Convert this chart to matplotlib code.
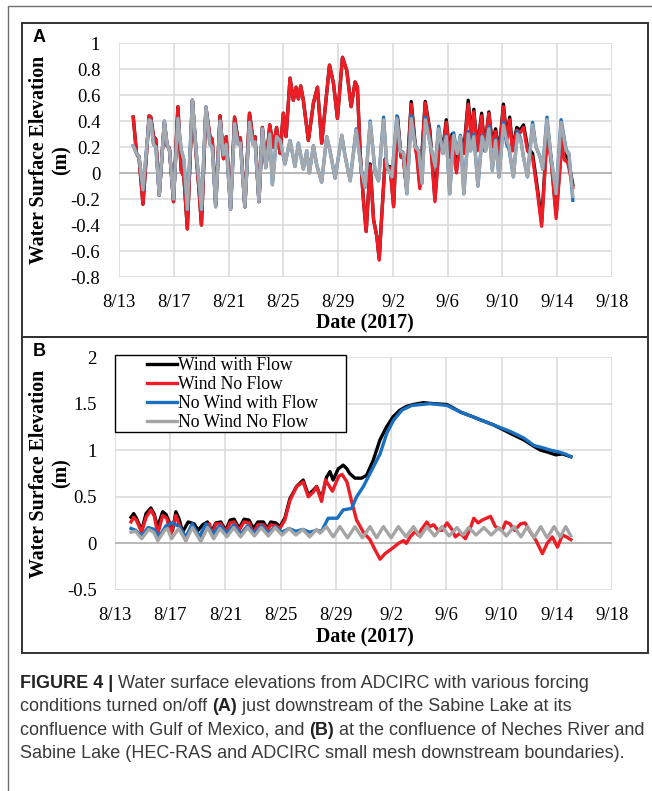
import matplotlib
matplotlib.use("Agg")
import matplotlib.pyplot as plt
from matplotlib.patches import Rectangle

W, H = 652, 791
fig = plt.figure(figsize=(W / 100, H / 100), dpi=100)

SERIF = "Liberation Serif"
SANS = "Liberation Sans"

# x axis: days after 8/13/2017
tick_days = [0, 4, 8, 12, 16, 20, 24, 28, 32, 36]
tick_labels = ["8/13", "8/17", "8/21", "8/25", "8/29", "9/2", "9/6", "9/10", "9/14", "9/18"]

yticks_a = [-0.8, -0.6, -0.4, -0.2, 0, 0.2, 0.4, 0.6, 0.8, 1]
ylabels_a = ["-0.8", "-0.6", "-0.4", "-0.2", "0", "0.2", "0.4", "0.6", "0.8", "1"]
yticks_b = [-0.5, 0, 0.5, 1, 1.5, 2]
ylabels_b = ["-0.5", "0", "0.5", "1", "1.5", "2"]

series_names = ["Wind with Flow", "Wind No Flow", "No Wind with Flow", "No Wind No Flow"]
series_colors = ["#000000", "#ee1c25", "#1a70c0", "#a5a5a5"]

# ---- panel A: downstream of Sabine Lake ----
t_a_wind = [1.04, 1.28, 1.46, 1.75, 2.20, 2.32, 2.52, 2.69, 2.94, 3.31, 3.51, 3.68, 3.98,
            4.30, 4.54, 4.74, 4.99, 5.36, 5.65, 5.83, 6.02, 6.35, 6.64, 6.81, 7.06, 7.38,
            7.63, 7.83, 8.15, 8.44, 8.69, 8.86, 9.19, 9.53, 9.78, 9.93, 10.22, 10.47, 10.72,
            11.01, 11.26, 11.51, 11.76, 12.00, 12.20, 12.49, 12.73, 12.93, 13.10, 13.27,
            13.46, 13.83, 14.20, 14.49, 14.80, 15.37, 15.66, 15.95, 16.32, 16.63, 16.95,
            17.24, 17.41, 17.61, 17.85, 18.05, 18.34, 18.59, 18.83, 19.00, 19.20, 19.44,
            19.61, 19.80, 20.05, 20.34, 20.59, 20.73, 20.98, 21.34, 21.63, 21.76, 21.97,
            22.36, 22.70, 23.07, 23.41, 23.71, 23.90, 24.15, 24.32, 24.64, 24.93, 25.18,
            25.50, 25.72, 25.91, 26.16, 26.48, 26.70, 27.01, 27.26, 27.50, 27.75, 28.07,
            28.31, 28.53, 28.73, 29.05, 29.29, 29.54, 29.83, 30.20, 30.57, 30.86, 31.25,
            31.55, 31.92, 32.36, 32.53, 32.77, 33.14]
red_a = [0.43, 0.15, 0.12, -0.24, 0.44, 0.43, 0.28, 0.26, -0.17, 0.39, 0.21, 0.19, -0.22,
         0.51, 0.02, -0.03, -0.43, 0.56, 0.12, -0.11, -0.40, 0.50, 0.28, 0.26, -0.25, 0.44,
         0.11, 0.28, -0.27, 0.43, 0.25, 0.27, -0.26, 0.46, 0.26, 0.28, -0.22, 0.35, 0.05,
         0.37, 0.20, 0.35, 0.15, 0.46, 0.28, 0.73, 0.56, 0.66, 0.57, 0.67,
         0.56, 0.25, 0.54, 0.66, 0.23, 0.83, 0.69, 0.42, 0.89, 0.79, 0.51,
         0.70, 0.66, 0.15, -0.21, -0.45, 0.06, -0.36, -0.49, -0.67, -0.31, 0.10,
         0.03, 0.04, -0.26, 0.41, 0.12, 0.15, -0.11, 0.53, 0.20, 0.12, -0.12,
         0.54, 0.31, -0.22, 0.25, 0.22, 0.39, 0.12, 0.28, 0.00, 0.26, 0.15,
         0.53, 0.27, 0.47, 0.17, 0.44, 0.17, 0.46, 0.20, 0.32, 0.14, 0.51,
         0.25, 0.41, 0.17, 0.33, 0.31, 0.35, 0.17, 0.12, -0.16, -0.41, 0.28,
         0.10, -0.35, 0.25, 0.10, 0.08, -0.11]
black_a = [0.43, 0.15, 0.12, -0.24, 0.44, 0.43, 0.28, 0.26, -0.17, 0.39, 0.21, 0.19, -0.22,
           0.51, 0.02, -0.03, -0.43, 0.56, 0.12, -0.11, -0.40, 0.50, 0.28, 0.26, -0.25, 0.44,
           0.11, 0.28, -0.27, 0.43, 0.25, 0.27, -0.26, 0.46, 0.26, 0.28, -0.22, 0.35, 0.05,
           0.37, 0.20, 0.35, 0.15, 0.46, 0.28, 0.73, 0.56, 0.66, 0.57, 0.67,
           0.56, 0.25, 0.54, 0.66, 0.23, 0.83, 0.69, 0.42, 0.89, 0.79, 0.51,
           0.70, 0.66, 0.15, -0.21, -0.45, 0.07, -0.36, -0.49, -0.66, -0.30, 0.11,
           0.04, 0.05, -0.25, 0.43, 0.13, 0.16, -0.10, 0.55, 0.22, 0.14, -0.10,
           0.55, 0.33, -0.20, 0.27, 0.24, 0.41, 0.14, 0.30, 0.02, 0.28, 0.17,
           0.56, 0.29, 0.49, 0.19, 0.46, 0.19, 0.47, 0.22, 0.34, 0.16, 0.53,
           0.27, 0.43, 0.19, 0.35, 0.33, 0.37, 0.20, 0.15, -0.13, -0.38, 0.30,
           0.12, -0.32, 0.28, 0.14, 0.12, -0.09]

t_a_calm = [1.04, 1.28, 1.46, 1.75, 2.20, 2.32, 2.52, 2.69, 2.94, 3.31, 3.51, 3.68, 3.98,
            4.30, 4.54, 4.74, 4.99, 5.36, 5.65, 5.83, 6.02, 6.35, 6.64, 6.81, 7.06, 7.38,
            7.63, 7.83, 8.15, 8.44, 8.69, 8.86, 9.19, 9.53, 9.78, 9.93, 10.22, 10.47, 10.72,
            11.01, 11.20, 11.51, 11.76, 12.12, 12.49, 12.85, 13.10, 13.46, 13.71, 13.90,
            14.20, 14.44, 14.80, 15.17, 15.41, 15.78, 16.27, 16.51, 16.88, 17.32, 17.73,
            17.98, 18.34, 18.71, 18.95, 19.32, 19.56, 19.93, 20.29, 20.54, 20.78, 21.02,
            21.34, 21.63, 21.88, 22.12, 22.37, 22.73, 23.09, 23.34, 23.66, 23.90, 24.15,
            24.44, 24.69, 24.93, 25.18, 25.50, 25.67, 25.91, 26.21, 26.52, 26.77, 27.01,
            27.26, 27.50, 27.75, 28.07, 28.31, 28.49, 28.80, 29.10, 29.34, 29.54, 29.83,
            30.20, 30.45, 30.76, 30.94, 31.25, 31.55, 31.92, 32.28, 32.65, 32.85, 33.14]
gray_a = [0.21, 0.15, 0.13, -0.13, 0.41, 0.40, 0.22, 0.20, -0.17, 0.40, 0.22, 0.18, -0.20,
          0.42, 0.18, 0.10, -0.28, 0.56, 0.15, -0.05, -0.28, 0.51, 0.22, 0.20, -0.26, 0.40,
          0.14, 0.22, -0.28, 0.38, 0.22, 0.23, -0.26, 0.39, 0.22, 0.24, -0.22, 0.34, 0.04,
          0.30, -0.09, 0.28, 0.25, 0.07, 0.25, 0.05, 0.23, 0.03, 0.17, 0.00,
          0.21, 0.06, -0.07, 0.28, 0.17, -0.04, 0.29, 0.13, -0.06, 0.33, 0.00,
          -0.11, 0.39, 0.00, -0.06, 0.41, 0.05, -0.03, 0.42, 0.17, 0.15, -0.16,
          0.42, 0.20, 0.17, -0.08, 0.41, 0.22, 0.05, 0.34, 0.15, 0.28, -0.16,
          0.29, 0.15, 0.28, -0.16, 0.30, 0.17, 0.28, -0.10, 0.28, 0.17, 0.34,
          0.02, 0.25, -0.03, 0.37, 0.25, 0.20, -0.03, 0.30, 0.25, 0.12, -0.03,
          0.37, 0.20, 0.12, 0.03, 0.41, 0.12, -0.16, 0.39, 0.17, 0.15, -0.18]
blue_a = [0.21, 0.15, 0.13, -0.13, 0.41, 0.40, 0.22, 0.20, -0.17, 0.40, 0.22, 0.18, -0.20,
          0.42, 0.18, 0.10, -0.28, 0.56, 0.15, -0.05, -0.28, 0.51, 0.22, 0.20, -0.26, 0.40,
          0.14, 0.22, -0.28, 0.38, 0.22, 0.23, -0.26, 0.39, 0.22, 0.24, -0.22, 0.34, 0.04,
          0.30, -0.09, 0.28, 0.25, 0.07, 0.25, 0.05, 0.23, 0.03, 0.17, 0.00,
          0.21, 0.06, -0.07, 0.28, 0.17, -0.04, 0.29, 0.13, -0.06, 0.34, 0.00,
          -0.11, 0.40, 0.00, -0.06, 0.43, 0.05, -0.03, 0.44, 0.17, 0.15, -0.16,
          0.44, 0.21, 0.17, -0.08, 0.43, 0.22, 0.05, 0.36, 0.15, 0.29, -0.16,
          0.31, 0.15, 0.29, -0.16, 0.32, 0.17, 0.30, -0.10, 0.29, 0.17, 0.36,
          0.02, 0.26, -0.03, 0.39, 0.22, 0.18, -0.03, 0.32, 0.26, 0.12, -0.03,
          0.39, 0.20, 0.12, 0.03, 0.43, 0.12, -0.16, 0.41, 0.18, 0.15, -0.21]

# ---- panel B: Neches River / Sabine Lake confluence ----
t_b_black = [1.16, 1.35, 1.55, 1.93, 2.25, 2.60, 2.85, 3.08, 3.45, 3.70, 4.17, 4.41, 4.65,
             4.89, 5.30, 5.73, 6.02, 6.35, 6.70, 6.99, 7.30, 7.66, 8.02, 8.34, 8.63, 8.99,
             9.35, 9.71, 10.02, 10.35, 10.75, 11.04, 11.28, 11.64, 11.94, 12.30, 12.67,
             13.15, 13.63, 14.00, 14.36, 14.60, 14.96, 15.32, 15.57, 15.80, 16.17, 16.53,
             16.80, 17.00, 17.38, 17.86, 18.22, 18.70, 19.19, 19.67, 20.15, 20.64, 21.12,
             21.60, 22.33, 23.05, 24.05, 25.02, 26.23, 27.44, 28.65, 29.62, 30.35, 30.84,
             31.32, 31.93, 32.40, 33.02]
black_b = [0.28, 0.32, 0.27, 0.14, 0.32, 0.38, 0.31, 0.17, 0.34, 0.31, 0.14, 0.34, 0.26,
           0.12, 0.23, 0.21, 0.14, 0.20, 0.23, 0.12, 0.22, 0.23, 0.14, 0.25, 0.26, 0.16,
           0.26, 0.25, 0.16, 0.23, 0.23, 0.16, 0.23, 0.22, 0.18, 0.27, 0.48,
           0.61, 0.68, 0.52, 0.57, 0.61, 0.48, 0.71, 0.77, 0.68, 0.80, 0.84,
           0.80, 0.75, 0.70, 0.70, 0.73, 0.89, 1.11, 1.25, 1.36, 1.43, 1.47,
           1.49, 1.51, 1.50, 1.49, 1.41, 1.34, 1.27, 1.18, 1.11, 1.04, 1.00,
           0.98, 0.95, 0.96, 0.93]

t_b_red = [1.16, 1.35, 1.55, 1.93, 2.25, 2.60, 2.85, 3.10, 3.45, 3.75, 4.05, 4.41, 4.75,
           5.13, 5.50, 5.80, 6.22, 6.55, 6.85, 7.05, 7.30, 7.66, 8.02, 8.34, 8.63, 8.99,
           9.35, 9.71, 10.02, 10.35, 10.75, 11.04, 11.28, 11.64, 11.94, 12.30, 12.67,
           13.15, 13.63, 14.00, 14.36, 14.60, 14.96, 15.25, 15.50, 15.75, 16.20, 16.45,
           16.80, 17.14, 17.50, 17.99, 18.47, 18.84, 19.20, 19.56, 19.93, 20.20, 20.53,
           20.90, 21.10, 21.38, 21.75, 21.95, 22.20, 22.59, 22.80, 23.08, 23.40, 23.70,
           24.05, 24.40, 24.65, 25.00, 25.38, 25.70, 25.99, 26.30, 26.60, 26.90, 27.20,
           27.55, 28.05, 28.30, 28.60, 28.95, 29.38, 29.70, 30.10, 30.50, 30.96, 31.30,
           31.68, 32.05, 32.41, 32.70, 33.02]
red_b = [0.23, 0.28, 0.25, 0.12, 0.28, 0.36, 0.29, 0.10, 0.30, 0.27, 0.10, 0.30, 0.16,
         0.03, 0.17, 0.14, 0.03, 0.19, 0.21, 0.08, 0.21, 0.21, 0.12, 0.22, 0.23, 0.14,
         0.23, 0.22, 0.11, 0.20, 0.20, 0.14, 0.20, 0.19, 0.16, 0.25, 0.46,
         0.61, 0.66, 0.50, 0.55, 0.61, 0.45, 0.68, 0.62, 0.56, 0.72, 0.74,
         0.66, 0.45, 0.25, 0.12, 0.04, -0.07, -0.17, -0.11, -0.07, -0.04, 0.00,
         0.03, 0.00, 0.07, 0.13, 0.09, 0.15, 0.23, 0.18, 0.20, 0.14, 0.14,
         0.22, 0.15, 0.07, 0.11, 0.05, 0.15, 0.27, 0.22, 0.25, 0.27, 0.29,
         0.18, 0.14, 0.23, 0.21, 0.14, 0.21, 0.22, 0.12, 0.03, -0.11, 0.00,
         0.07, -0.04, 0.09, 0.07, 0.04]

t_b_blue = [1.16, 1.50, 1.93, 2.40, 2.85, 3.20, 3.70, 4.17, 4.65, 5.13, 5.60, 6.10, 6.60,
            7.10, 7.60, 8.10, 8.60, 9.10, 9.60, 10.10, 10.60, 11.10, 11.60, 12.10, 12.60,
            13.10, 13.60, 14.10, 14.60, 14.96, 15.44, 15.80, 16.10, 16.53, 17.14, 17.50,
            17.99, 18.47, 19.20, 19.68, 20.17, 20.78, 21.50, 22.84, 24.05, 25.02, 26.23,
            27.44, 28.65, 29.62, 30.35, 30.90, 31.56, 32.17, 32.60, 33.02]
blue_b = [0.16, 0.14, 0.08, 0.17, 0.15, 0.07, 0.19, 0.22, 0.18, 0.07, 0.21, 0.07, 0.21,
          0.10, 0.19, 0.11, 0.20, 0.10, 0.19, 0.11, 0.19, 0.11, 0.18, 0.12, 0.16,
          0.13, 0.15, 0.12, 0.14, 0.13, 0.27, 0.27, 0.27, 0.36, 0.375, 0.50,
          0.61, 0.75, 0.96, 1.18, 1.32, 1.43, 1.48, 1.50, 1.48, 1.41, 1.34,
          1.27, 1.20, 1.13, 1.05, 1.03, 1.00, 0.98, 0.96, 0.93]

t_b_gray = [1.16, 1.50, 1.93, 2.45, 2.80, 3.10, 3.60, 3.80, 4.10, 4.60, 5.13, 5.60, 6.22,
            6.70, 7.15, 7.60, 8.10, 8.60, 9.10, 9.60, 10.10, 10.60, 11.10, 11.60, 12.10,
            12.60, 13.10, 13.60, 14.10, 14.60, 14.85, 15.32, 15.80, 16.29, 16.85, 17.38,
            17.92, 18.47, 18.95, 19.44, 20.00, 20.53, 21.08, 21.62, 22.10, 22.59, 23.15,
            23.68, 24.20, 24.77, 25.20, 25.62, 26.15, 26.72, 27.25, 27.81, 28.35, 28.90,
            29.40, 29.87, 30.35, 30.84, 31.30, 31.81, 32.25, 32.65, 33.02]
gray_b = [0.12, 0.13, 0.05, 0.15, 0.12, 0.03, 0.14, 0.16, 0.05, 0.16, 0.03, 0.17, 0.02,
          0.17, 0.05, 0.16, 0.07, 0.17, 0.07, 0.17, 0.08, 0.17, 0.08, 0.17, 0.09,
          0.16, 0.09, 0.15, 0.07, 0.15, 0.11, 0.18, 0.07, 0.18, 0.06, 0.18,
          0.06, 0.18, 0.06, 0.18, 0.06, 0.18, 0.07, 0.18, 0.07, 0.18, 0.08,
          0.18, 0.08, 0.17, 0.09, 0.17, 0.09, 0.17, 0.09, 0.17, 0.08, 0.18,
          0.07, 0.18, 0.06, 0.18, 0.06, 0.18, 0.07, 0.18, 0.08]


def fig_rect(left, top, right, bottom):
    # pixel box -> figure fraction [l, b, w, h]
    return [left / W, 1 - bottom / H, (right - left) / W, (bottom - top) / H]


def make_panel(box, yticks, ylabels, ypad):
    ax = fig.add_axes(fig_rect(*box))
    ax.set_xlim(0, 36)
    ax.set_ylim(yticks[0], yticks[-1])
    ax.set_xticks(tick_days)
    ax.set_xticklabels(tick_labels)
    ax.set_yticks(yticks)
    ax.set_yticklabels(ylabels)
    for s in ax.spines.values():
        s.set_visible(False)
    ax.grid(True, color="#d9d9d9", lw=1.1)
    ax.set_axisbelow(True)
    ax.axhline(0, color="#b8b8b8", lw=1.4, zorder=1)
    ax.tick_params(length=0, labelsize=13.5)
    ax.tick_params(axis="x", pad=12)
    ax.tick_params(axis="y", pad=ypad)
    for lab in ax.get_xticklabels() + ax.get_yticklabels():
        lab.set_fontfamily(SERIF)
    return ax


lw = 2.4
ax_a = make_panel((119, 43, 612, 277), yticks_a, ylabels_a, 13.5)
ax_a.plot(t_a_wind, black_a, color=series_colors[0], lw=lw, zorder=3)
ax_a.plot(t_a_wind, red_a, color=series_colors[1], lw=lw, zorder=4)
ax_a.plot(t_a_calm, blue_a, color=series_colors[2], lw=lw, zorder=5)
ax_a.plot(t_a_calm, gray_a, color="#a3a9ae", lw=lw, zorder=6)

ax_b = make_panel((115, 357, 612, 590), yticks_b, ylabels_b, 13)
handles = []
handles += ax_b.plot(t_b_black, black_b, color=series_colors[0], lw=lw, zorder=3)
handles += ax_b.plot(t_b_red, red_b, color=series_colors[1], lw=lw, zorder=4)
handles += ax_b.plot(t_b_blue, blue_b, color=series_colors[2], lw=lw, zorder=5)
handles += ax_b.plot(t_b_gray, gray_b, color=series_colors[3], lw=lw, zorder=6)

leg = fig.legend(handles, series_names, loc="upper left",
                 bbox_to_anchor=(147 / W, 1 - 357 / H), bbox_transform=fig.transFigure,
                 frameon=False, borderpad=0, borderaxespad=0, handlelength=1.7,
                 handletextpad=0.05, labelspacing=0.12,
                 prop={"family": SERIF, "size": 12.7})
for ln in leg.get_lines():
    ln.set_linewidth(2.4)
fig.add_artist(Rectangle((115 / W, 1 - 432 / H), 231 / W, 77 / H, transform=fig.transFigure,
                         fill=True, fc="white", ec="black", lw=1.0, zorder=2))
leg.set_zorder(3)

# axis titles
for ytop, ybot, xl_y in [(43, 277, 323), (357, 590, 637)]:
    fig.text(50 / W, 1 - (ytop + ybot) / 2 / H, "Water Surface Elevation\n(m)",
             rotation=90, ha="center", va="center", multialignment="center",
             family=SERIF, weight="bold", size=14.3, linespacing=1.15)
    fig.text(365 / W, 1 - xl_y / H, "Date (2017)", ha="center", va="center",
             family=SERIF, weight="bold", size=14.3)

fig.text(39 / W, 1 - 37 / H, "A", ha="center", va="center", family=SANS, weight="bold", size=13)
fig.text(39 / W, 1 - 352 / H, "B", ha="center", va="center", family=SANS, weight="bold", size=13)

# frames
fig.add_artist(Rectangle((8 / W, 1 - 800 / H), 700 / W, 794 / H, transform=fig.transFigure,
                         fill=False, ec="#6e6e6e", lw=1.0))
for top, bot in [(23, 337), (337, 653)]:
    fig.add_artist(Rectangle((22 / W, 1 - bot / H), 626 / W, (bot - top) / H,
                             transform=fig.transFigure, fill=False, ec="#333333", lw=1.4))

# caption with bold pieces
caption = [
    [("FIGURE 4 |", True), (" Water surface elevations from ADCIRC with various forcing", False)],
    [("conditions turned on/off ", False), ("(A)", True), (" just downstream of the Sabine Lake at its", False)],
    [("confluence with Gulf of Mexico, and ", False), ("(B)", True), (" at the confluence of Neches River and", False)],
    [("Sabine Lake (HEC-RAS and ADCIRC small mesh downstream boundaries).", False)],
]
cap_size = 13.0
renderer = fig.canvas.get_renderer()
for i, pieces in enumerate(caption):
    x = 20
    y = 683.5 + i * 23.3
    for txt, bold in pieces:
        t = fig.text(x / W, 1 - y / H, txt, ha="left", va="center", family=SANS,
                     weight="bold" if bold else "normal", size=cap_size,
                     color="#222222" if bold else "#3a3a3a")
        x = t.get_window_extent(renderer).x1

fig.savefig("out.png", dpi=100)
